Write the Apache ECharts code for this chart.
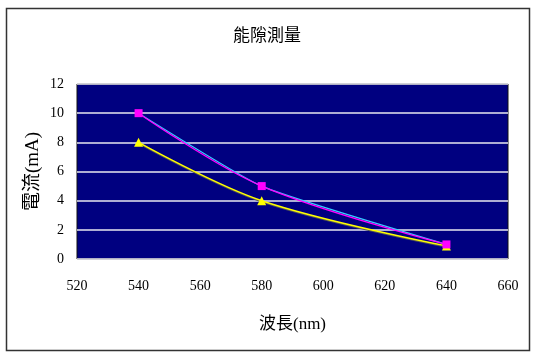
<!DOCTYPE html>
<html><head><meta charset="utf-8">
<script src="https://cdn.jsdelivr.net/npm/echarts@6/dist/echarts.min.js"></script>
<style>html,body{margin:0;padding:0;background:#fff}#c{width:534px;height:361px}</style>
</head><body><div id="c"></div>
<script>
const titleText = '能隙測量';
const xName = '波長(nm)';
const yName = '電流(mA)';
const wavelengths = [540, 580, 640];
const seriesPink = [10, 5, 1];
const seriesCyan = [10, 5, 1];
const seriesYellow = [8, 4, 0.9];

const pair = (xs, ys) => xs.map((x, i) => [x, ys[i]]);
const cjk = "'Liberation Serif','Noto Sans CJK TC'";

const chart = echarts.init(document.getElementById('c'), null, {renderer: 'canvas'});
chart.setOption({
  animation: false,
  backgroundColor: '#fff',
  title: {
    text: titleText, left: 'center', top: 21,
    textStyle: {fontFamily: "'Noto Sans CJK TC'", fontSize: 17, fontWeight: 'normal', color: '#000'}
  },
  graphic: [{
    type: 'rect', silent: true, z: -1,
    shape: {x: 6.5, y: 8.5, width: 523, height: 342},
    style: {fill: 'none', stroke: '#333', lineWidth: 1.5}
  }],
  grid: {
    left: 77, right: 26, top: 84, bottom: 102, show: true,
    backgroundColor: '#000080', borderColor: '#111', borderWidth: 1
  },
  xAxis: {
    type: 'value', min: 520, max: 660, interval: 20,
    name: xName, nameLocation: 'middle', nameGap: 57,
    nameTextStyle: {fontFamily: cjk, fontSize: 17, color: '#000'},
    axisLine: {show: false}, axisTick: {show: false}, splitLine: {show: false},
    axisLabel: {margin: 20, fontFamily: "'Liberation Serif'", fontSize: 14, color: '#000'}
  },
  yAxis: {
    type: 'value', min: 0, max: 12, interval: 2,
    name: yName, nameLocation: 'middle', nameGap: 34, nameMoveOverlap: false,
    nameTextStyle: {fontFamily: cjk, fontSize: 19, color: '#000'},
    axisLine: {show: false}, axisTick: {show: false},
    splitLine: {show: true, lineStyle: {color: '#e8e8f0', width: 1.5}},
    axisLabel: {margin: 13, fontFamily: "'Liberation Serif'", fontSize: 14, color: '#000'}
  },
  series: [
    {
      type: 'line', data: pair(wavelengths, seriesCyan), smooth: 0.15,
      showSymbol: false, symbol: 'none',
      lineStyle: {color: '#33ccff', width: 1.2}, z: 2
    },
    {
      type: 'line', data: pair(wavelengths, seriesYellow), smooth: 0.35,
      symbol: 'triangle', symbolSize: 9,
      itemStyle: {color: '#ffff00'},
      lineStyle: {color: '#ffff00', width: 1.5, shadowColor: '#555', shadowOffsetY: 1, shadowBlur: 0}, z: 3
    },
    {
      type: 'line', data: pair(wavelengths, seriesPink), smooth: 0.35,
      symbol: 'rect', symbolSize: 8,
      itemStyle: {color: '#ff00ff'},
      lineStyle: {color: '#ff00ff', width: 1.3}, z: 4
    }
  ]
});
</script></body></html>
